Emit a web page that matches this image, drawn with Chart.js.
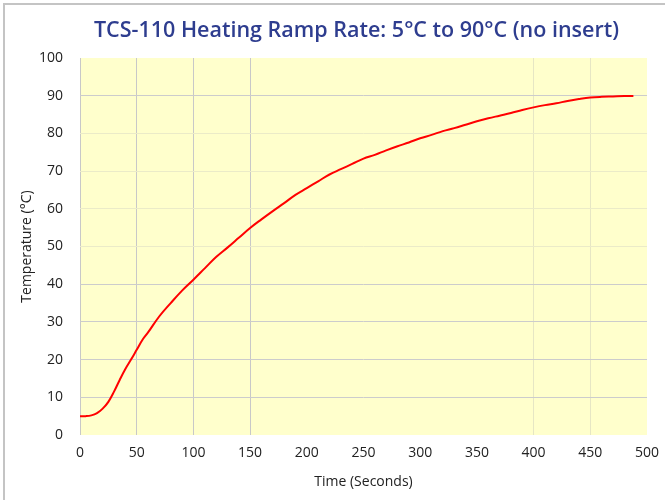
<!DOCTYPE html>
<html>
<head>
<meta charset="utf-8">
<script src="https://cdn.jsdelivr.net/npm/chart.js@4/dist/chart.umd.min.js"></script>
<style>
html,body{margin:0;padding:0;background:#fff;}
#wrap{position:relative;width:665px;height:500px;}
canvas{display:block;}
</style>
</head>
<body>
<div id="wrap"><canvas id="c" width="665" height="500"></canvas></div>
<script>
// Data
const timeSeconds = [0,5,10,15,20,25,30,35,40,45,50,55,60,70,80,90,100,110,120,130,140,150,160,170,180,190,200,210,220,230,240,250,260,270,280,290,300,310,320,330,340,350,360,370,380,390,400,410,420,430,440,450,460,470,480,488];
const temperatureC = [5.0,5.0,5.2,5.8,7.0,8.8,11.5,14.6,17.5,20.0,22.6,25.2,27.2,31.5,35.0,38.3,41.2,44.2,47.2,49.7,52.3,54.9,57.2,59.4,61.5,63.7,65.5,67.3,69.1,70.5,71.9,73.3,74.3,75.5,76.6,77.6,78.7,79.6,80.6,81.4,82.3,83.2,84.0,84.7,85.4,86.2,86.9,87.5,88.0,88.6,89.1,89.5,89.7,89.8,89.9,89.9];
const xTicks = [0,50,100,150,200,250,300,350,400,450,500];
const yTicks = [0,10,20,30,40,50,60,70,80,90,100];
const titleText = 'TCS-110 Heating Ramp Rate: 5°C to 90°C (no insert)';
const xTitle = 'Time (Seconds)';
const yTitle = 'Temperature (°C)';

const FONT = "'Open Sans', 'Noto Sans', sans-serif";

const bgPlugin = {
  id: 'bg',
  beforeDraw(chart) {
    const {ctx, chartArea: a} = chart;
    ctx.save();
    ctx.fillStyle = '#ffffff';
    ctx.fillRect(0, 0, chart.width, chart.height);
    ctx.fillStyle = '#ffffcc';
    ctx.fillRect(a.left, a.top, a.right - a.left, a.bottom - a.top);
    ctx.strokeStyle = '#c4c4c4';
    ctx.lineWidth = 2;
    ctx.beginPath();
    ctx.moveTo(4, chart.height);
    ctx.lineTo(4, 4);
    ctx.lineTo(chart.width, 4);
    ctx.stroke();
    ctx.restore();
  },
  afterDraw(chart) {
    const {ctx, chartArea: a} = chart;
    ctx.save();
    ctx.fillStyle = '#2e3d8f';
    ctx.font = "600 21.5px " + FONT;
    ctx.textAlign = 'center';
    ctx.textBaseline = 'middle';
    ctx.fillText(titleText, (a.left + a.right) / 2 - 7, 31);
    ctx.restore();
  }
};

const xGridColor = v => {
  if (v === 50 || v === 100 || v === 150 || v === 0) return '#c8c8c8';
  if (v === 400 || v === 450) return '#e6e6c4';
  return 'rgba(0,0,0,0)';
};
const yGridColor = v => {
  if (v >= 10 && v <= 40) return '#cccccc';
  if (v === 90) return '#cccccc';
  if (v >= 50 && v <= 80) return '#ebebc8';
  return 'rgba(0,0,0,0)';
};

new Chart(document.getElementById('c'), {
  type: 'line',
  data: {
    datasets: [{
      data: timeSeconds.map((t, i) => ({x: t, y: temperatureC[i]})),
      borderColor: '#ff0000',
      borderWidth: 2,
      pointRadius: 0,
      tension: 0.4,
      fill: false
    }]
  },
  options: {
    responsive: false,
    animation: false,
    devicePixelRatio: 1,
    layout: {padding: {top: 58, right: 18, bottom: 6, left: 15}},
    plugins: {
      legend: {display: false},
      tooltip: {enabled: false},
      title: {display: false}
    },
    scales: {
      x: {
        type: 'linear',
        min: 0, max: 500,
        afterBuildTicks: s => { s.ticks = xTicks.map(v => ({value: v})); },
        afterFit: s => { s.height = 59; s.paddingRight = 0; s.paddingLeft = 0; },
        ticks: {color: '#222', font: {family: FONT, size: 14}, padding: 10, maxRotation: 0},
        grid: {color: ctx => xGridColor(ctx.tick ? ctx.tick.value : -1), drawTicks: false, lineWidth: 1},
        border: {display: false},
        title: {display: true, text: xTitle, color: '#222', font: {family: FONT, size: 14}, padding: {top: 4, bottom: 4}}
      },
      y: {
        min: 0, max: 100,
        afterBuildTicks: s => { s.ticks = yTicks.map(v => ({value: v})); },
        afterFit: s => { s.width = 65; },
        ticks: {color: '#222', font: {family: FONT, size: 14}, padding: 17},
        grid: {color: ctx => yGridColor(ctx.tick ? ctx.tick.value : -1), drawTicks: false, lineWidth: 1},
        border: {display: false},
        title: {display: true, text: yTitle, color: '#222', font: {family: FONT, size: 14}, padding: {top: 4, bottom: 4}}
      }
    }
  },
  plugins: [bgPlugin]
});
</script>
</body>
</html>
